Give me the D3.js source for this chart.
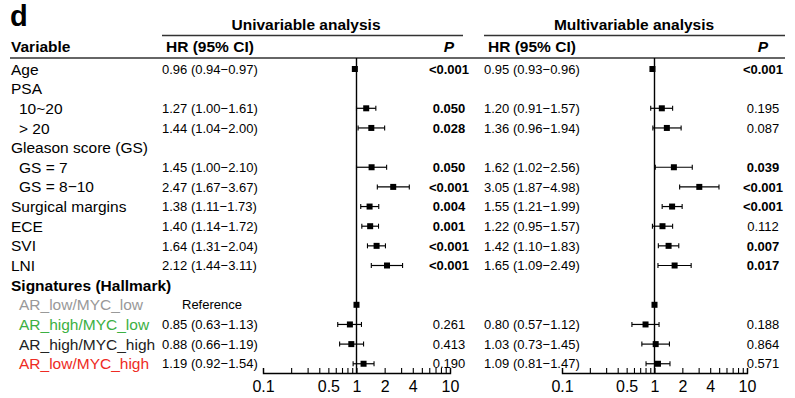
<!DOCTYPE html>
<html>
<head>
<meta charset="utf-8">
<script src="https://cdn.jsdelivr.net/npm/d3@7"></script>
<style>
  html, body { margin: 0; padding: 0; background: #fff; }
  svg { display: block; font-family: "Liberation Sans", Arial, sans-serif; }
</style>
</head>
<body>
<div id="chart"></div>
<script>
/* Forest plot: univariable + multivariable Cox analysis */

// ---- data ----
const variables = ["Age", "PSA", "10~20", "> 20", "Gleason score (GS)", "GS = 7", "GS = 8\u221210",
  "Surgical margins", "ECE", "SVI", "LNI", "Signatures (Hallmark)",
  "AR_low/MYC_low", "AR_high/MYC_low", "AR_high/MYC_high", "AR_low/MYC_high"];
const indent   = [0, 0, 1, 1, 0, 1, 1, 0, 0, 0, 0, 0, 1, 1, 1, 1];
const labelColors = ["#000", "#000", "#000", "#000", "#000", "#000", "#000", "#000", "#000", "#000", "#000", "#000",
  "#999999", "#3cb043", "#222222", "#ee2b24"];
const boldLabel = [false, false, false, false, false, false, false, false, false, false, false, true,
  false, false, false, false];

const uniHR = [0.96, null, 1.27, 1.44, null, 1.45, 2.47, 1.38, 1.40, 1.64, 2.12, null, 1, 0.85, 0.88, 1.19];
const uniLo = [0.94, null, 1.00, 1.04, null, 1.00, 1.67, 1.11, 1.14, 1.31, 1.44, null, null, 0.63, 0.66, 0.92];
const uniHi = [0.97, null, 1.61, 2.00, null, 2.10, 3.67, 1.73, 1.72, 2.04, 3.11, null, null, 1.13, 1.19, 1.54];
const uniP  = ["<0.001", "", "0.050", "0.028", "", "0.050", "<0.001", "0.004", "0.001", "<0.001", "<0.001", "",
  "", "0.261", "0.413", "0.190"];

const mulHR = [0.95, null, 1.20, 1.36, null, 1.62, 3.05, 1.55, 1.22, 1.42, 1.65, null, 1, 0.80, 1.03, 1.09];
const mulLo = [0.93, null, 0.91, 0.96, null, 1.02, 1.87, 1.21, 0.95, 1.10, 1.09, null, null, 0.57, 0.73, 0.81];
const mulHi = [0.96, null, 1.57, 1.94, null, 2.56, 4.98, 1.99, 1.57, 1.83, 2.49, null, null, 1.12, 1.45, 1.47];
const mulP  = ["<0.001", "", "0.195", "0.087", "", "0.039", "<0.001", "<0.001", "0.112", "0.007", "0.017", "",
  "", "0.188", "0.864", "0.571"];

const tickLabels = [0.1, 0.5, 1, 2, 4, 10];

(function() {
  const W = 795, H = 398;
  const rowTop = 69, rowStep = 19.65;
  const axisY = 373;

  const svg = d3.select("#chart").append("svg")
    .attr("width", W).attr("height", H);

  const y = i => rowTop + i * rowStep;
  const fmt = v => v.toFixed(2);
  const isBold = p => p.startsWith("<") || (+p > 0 && +p <= 0.05);

  // panel letter
  svg.append("text").attr("x", 10).attr("y", 26)
    .style("font-size", "29px").style("font-weight", "700").text("d");

  // headers
  const panels = [
    { title: "Univariable analysis", titleX: 306, x0: 162, x1: 463, hrX: 162, pX: 449, range: [263, 450],
      hr: uniHR, lo: uniLo, hi: uniHi, p: uniP },
    { title: "Multivariable analysis", titleX: 634, x0: 484, x1: 785, hrX: 484, pX: 763, range: [562, 747],
      hr: mulHR, lo: mulLo, hi: mulHi, p: mulP }
  ];

  svg.append("text").attr("x", 11).attr("y", 52)
    .style("font-size", "15.5px").style("font-weight", "700").text("Variable");

  svg.append("line").attr("x1", 10).attr("x2", 785).attr("y1", 58).attr("y2", 58)
    .attr("stroke", "#333").attr("stroke-width", 1.5);

  // variable labels
  svg.selectAll(".var").data(variables).enter().append("text")
    .attr("class", "var")
    .attr("x", (d, i) => indent[i] ? 19 : 11)
    .attr("y", (d, i) => y(i)).attr("dy", "0.36em")
    .style("font-size", "15.5px")
    .style("font-weight", (d, i) => boldLabel[i] ? "700" : "400")
    .style("fill", (d, i) => labelColors[i])
    .text(d => d);

  panels.forEach((pn, k) => {
    const g = svg.append("g");

    g.append("text").attr("x", pn.titleX).attr("y", 30)
      .attr("text-anchor", "middle")
      .style("font-size", "15.5px").style("font-weight", "700").text(pn.title);
    g.append("line").attr("x1", pn.x0).attr("x2", pn.x1).attr("y1", 35.5).attr("y2", 35.5)
      .attr("stroke", "#333").attr("stroke-width", 1.3);
    g.append("text").attr("x", pn.hrX + 4).attr("y", 52)
      .style("font-size", "15.5px").style("font-weight", "700").text("HR (95% CI)");
    g.append("text").attr("x", pn.pX).attr("y", 52).attr("text-anchor", "middle")
      .style("font-size", "15.5px").style("font-weight", "700").style("font-style", "italic").text("P");

    // HR text
    g.selectAll(".hr").data(variables).enter().append("text")
      .attr("class", "hr")
      .attr("x", (d, i) => (pn.lo[i] == null && pn.hr[i] != null) ? pn.hrX + 20 : pn.hrX)
      .attr("y", (d, i) => y(i)).attr("dy", "0.36em")
      .style("font-size", "13px")
      .text((d, i) => {
        if (pn.hr[i] == null) return "";
        if (pn.lo[i] == null) return k === 0 ? "Reference" : "";
        return `${fmt(pn.hr[i])} (${fmt(pn.lo[i])}\u2212${fmt(pn.hi[i])})`;
      });

    // P values
    g.selectAll(".pv").data(pn.p).enter().append("text")
      .attr("class", "pv")
      .attr("x", pn.pX).attr("text-anchor", "middle")
      .attr("y", (d, i) => y(i)).attr("dy", "0.36em")
      .style("font-size", "13px")
      .style("font-weight", d => isBold(d) ? "700" : "400")
      .text(d => d);

    // forest
    const x = d3.scaleLog().domain([0.1, 10]).range(pn.range);

    g.append("line").attr("x1", x(1)).attr("x2", x(1)).attr("y1", 58).attr("y2", axisY)
      .attr("stroke", "#000").attr("stroke-width", 1.4);

    const rows = d3.range(variables.length).filter(i => pn.hr[i] != null);

    const withCI = rows.filter(i => pn.lo[i] != null);
    g.selectAll(".ci").data(withCI).enter().append("line")
      .attr("x1", i => x(pn.lo[i])).attr("x2", i => x(pn.hi[i]))
      .attr("y1", i => y(i)).attr("y2", i => y(i))
      .attr("stroke", "#000").attr("stroke-width", 1.2);
    ["lo", "hi"].forEach(key => {
      g.selectAll(".cap-" + key).data(withCI).enter().append("line")
        .attr("x1", i => x(pn[key][i])).attr("x2", i => x(pn[key][i]))
        .attr("y1", i => y(i) - 2.5).attr("y2", i => y(i) + 2.5)
        .attr("stroke", "#000").attr("stroke-width", 1.1);
    });
    g.selectAll(".pt").data(rows).enter().append("rect")
      .attr("x", i => x(pn.hr[i]) - 3).attr("y", i => y(i) - 3)
      .attr("width", 6).attr("height", 6).attr("fill", "#000");

    // axis
    const ticks = d3.range(1, 10).map(v => v / 10).concat(d3.range(1, 11));
    const axis = d3.axisBottom(x).tickValues(ticks).tickSize(-5).tickPadding(6)
      .tickFormat(v => tickLabels.includes(v) ? String(v) : "");
    const ag = g.append("g").attr("transform", `translate(0,${axisY})`).call(axis);
    ag.select(".domain").attr("stroke", "#000").attr("stroke-width", 1.4);
    ag.selectAll(".tick line").attr("stroke", "#000").attr("stroke-width", 1.1);
    ag.selectAll(".tick text").attr("y", 8).attr("dy", "0.71em")
      .style("font-size", "16px").style("font-family", "'Liberation Sans', Arial, sans-serif")
      .attr("fill", "#000");
  });
})();
</script>
</body>
</html>
